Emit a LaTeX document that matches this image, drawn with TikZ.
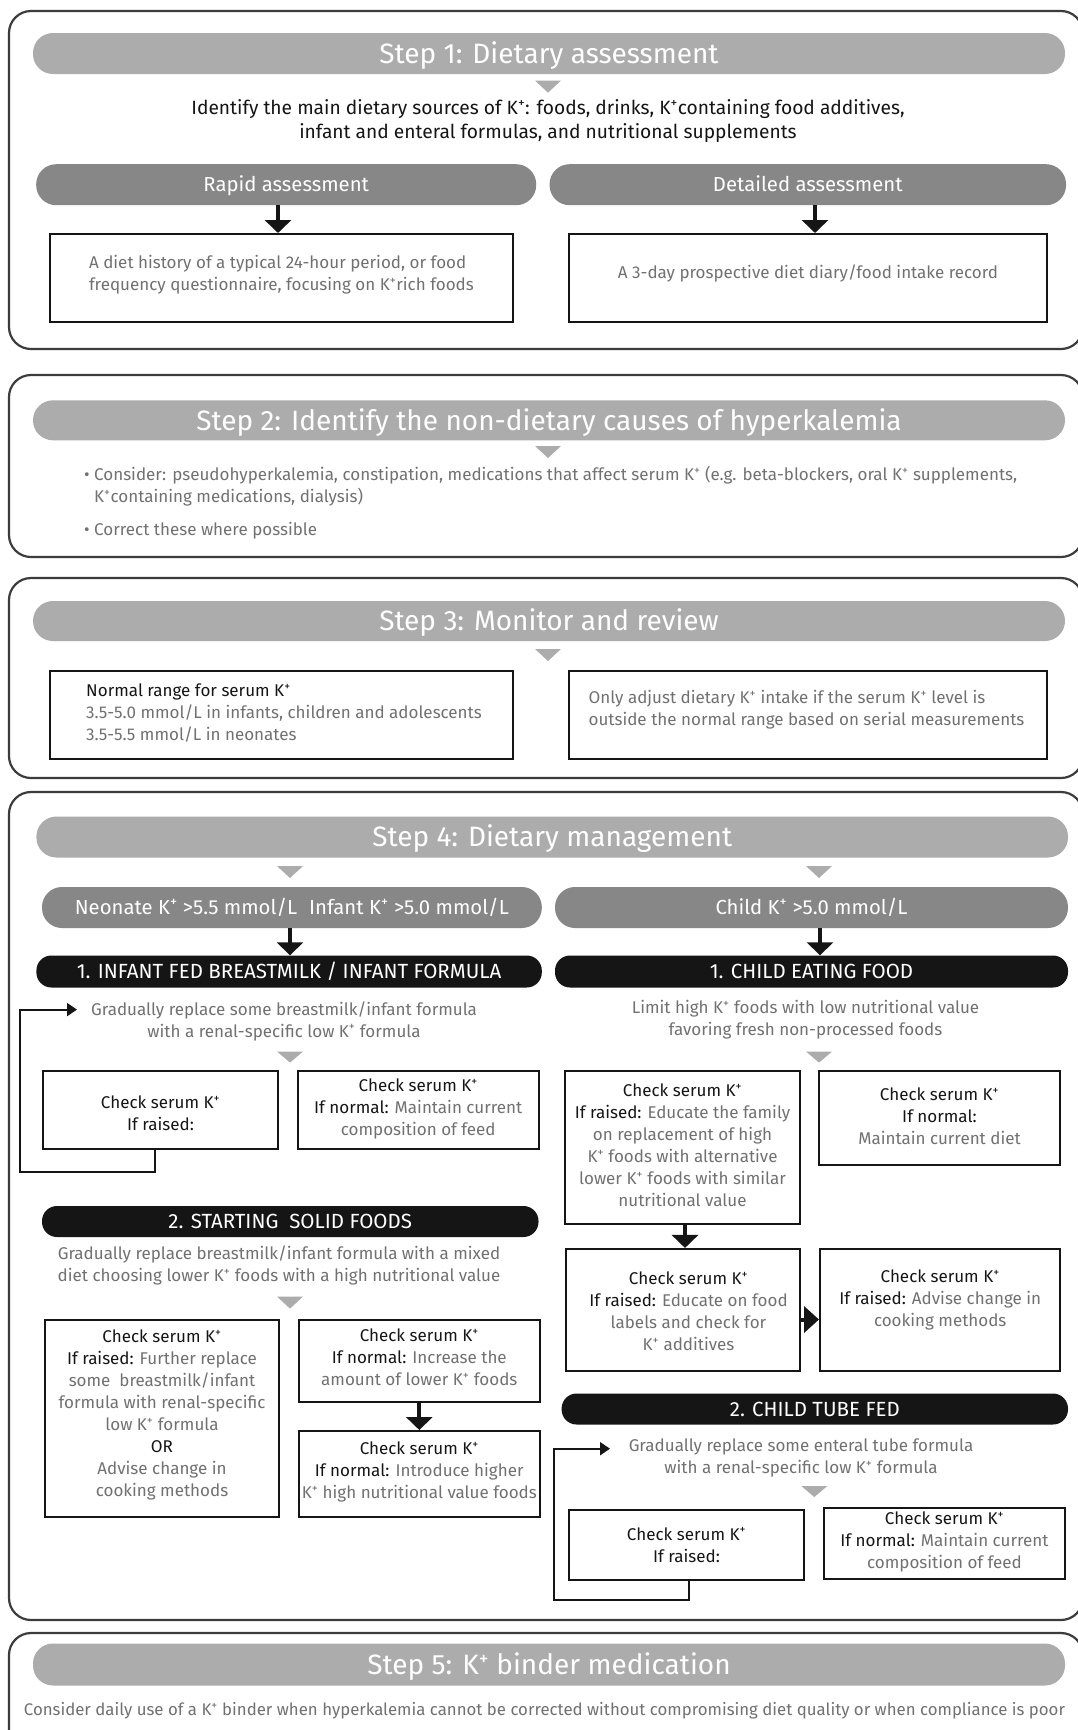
\documentclass[tikz,border=0pt]{standalone}
\usepackage{fontspec}
\setmainfont{Fira Sans}
\usetikzlibrary{arrows.meta}
\definecolor{hdr}{HTML}{ABACAB}
\definecolor{sub}{HTML}{878787}
\definecolor{blk}{HTML}{151515}
\definecolor{txt}{HTML}{717171}
\definecolor{frame}{HTML}{3C3C3C}
\newcommand{\Kp}{K\textsuperscript{+}}
\newcommand{\dk}[1]{\textcolor{blk}{#1}}
\begin{document}
\begin{tikzpicture}[x=1pt,y=-1pt,
  panel/.style={draw=frame, line width=2.2pt, rounded corners=22pt},
  hdrpill/.style={fill=hdr, rounded corners=20pt, inner sep=0pt, text=white, font=\fontsize{28}{32}\selectfont, text height=20.2pt, text depth=0.8pt},
  subpill/.style={fill=sub, rounded corners=20pt, inner sep=0pt, text=white, font=\fontsize{20.3}{24}\selectfont, text height=14.6pt, text depth=0.6pt},
  blkpill/.style={fill=blk, rounded corners=15pt, inner sep=0pt, text=white, font=\fontsize{20.5}{24}\selectfont, text height=14.8pt, text depth=0.6pt},
  box/.style={draw=blk, line width=2pt, inner sep=0pt},
  gtext/.style={inner sep=0pt, align=center, text=txt, font=\fontsize{17}{22}\selectfont},
  ktext/.style={inner sep=0pt, align=center, text=blk, font=\fontsize{19.2}{24}\selectfont},
  bigarrow/.style={draw=blk, line width=4pt, -{Triangle[width=26pt,length=13pt]}},
  sidearrow/.style={draw=blk, line width=4pt, -{Triangle[width=26pt,length=15pt]}},
  thinarrow/.style={draw=blk, line width=2pt, -{Triangle[width=13pt,length=10pt]}},
  tri/.style={fill=hdr}
]
\clip (0,0) rectangle (1078,1730);
\fill[white] (0,0) rectangle (1078,1730);

% ---------------- Step 1
\draw[panel] (9,11) rectangle (1083,349);
\node[hdrpill, minimum width=1032pt, minimum height=41pt] (h1) at (549,53.5) {Step 1: Dietary assessment};
\fill[tri] (535,80.5) -- (561,80.5) -- (548,92.7) -- cycle;
\node[ktext] (s1t) at (548,121.2) {Identify the main dietary sources of \Kp: foods, drinks, \Kp containing food additives,\\infant and enteral formulas, and nutritional supplements};
\node[subpill, minimum width=500pt, minimum height=41pt] (ra) at (286.2,184.7) {Rapid assessment};
\node[subpill, minimum width=516.5pt, minimum height=41pt] (da) at (807.8,184.7) {Detailed assessment};
\node[box, minimum width=463pt, minimum height=88pt] (b1) at (281.4,278) {};
\node[gtext, align=left] (b1t) at (281.4,274.5) {A diet history of a typical 24-hour period, or food\\frequency questionnaire, focusing on \Kp rich foods};
\node[box, minimum width=478pt, minimum height=88pt] (b2) at (808,278) {};
\node[gtext] (b2t) at (808,273.6) {A 3-day prospective diet diary/food intake record};
\coordinate (x1) at (278,0);
\coordinate (x2) at (815,0);
\draw[bigarrow] (ra.south -| x1) -- (b1.north -| x1);
\draw[bigarrow] (da.south -| x2) -- (b2.north -| x2);

% ---------------- Step 2
\draw[panel] (9,375) rectangle (1083,557);
\node[hdrpill, minimum width=1032pt, minimum height=40pt] (h2) at (549,420.3) {Step 2: Identify the non-dietary causes of hyperkalemia};
\fill[tri] (535,446) -- (561,446) -- (548,458) -- cycle;
\node[gtext, align=left, anchor=west] (s2a) at (84,486.5) {•\ Consider: pseudohyperkalemia, constipation, medications that affect serum \Kp{} (e.g. beta-blockers, oral \Kp{} supplements,\\\hphantom{•\ }\Kp containing medications, dialysis)};
\node[gtext, align=left, anchor=west] (s2b) at (84,530.6) {•\ Correct these where possible};

% ---------------- Step 3
\draw[panel] (9,578) rectangle (1083,778);
\node[hdrpill, minimum width=1032pt, minimum height=40pt] (h3) at (549,621) {Step 3: Monitor and review};
\fill[tri] (535,649) -- (561,649) -- (548,661) -- cycle;
\node[box, minimum width=463pt, minimum height=88pt] (n1) at (281.4,715) {};
\node[gtext, align=left] (n1t) at (284,713) {\dk{Normal range for serum \Kp}\\3.5-5.0 mmol/L in infants, children and adolescents\\3.5-5.5 mmol/L in neonates};
\node[box, minimum width=478pt, minimum height=88pt] (n2) at (808,715) {};
\node[gtext, align=left] (n2t) at (806.5,709.5) {Only adjust dietary \Kp{} intake if the serum \Kp{} level is\\outside the normal range based on serial measurements};

% ---------------- Step 4
\draw[panel] (9,792) rectangle (1083,1620);
\node[hdrpill, minimum width=1031.6pt, minimum height=41pt] (h4) at (552.2,837) {Step 4: Dietary management};
\fill[tri] (277,866) -- (303,866) -- (290,878) -- cycle;
\fill[tri] (806,866) -- (832,866) -- (819,878) -- cycle;
\node[subpill, minimum width=499.8pt, minimum height=41pt] (neo) at (291.9,907.5) {Neonate \Kp{} >5.5 mmol/L\hspace{12pt}Infant \Kp{} >5.0 mmol/L};
\node[subpill, minimum width=513pt, minimum height=41pt] (chi) at (811.5,907.5) {Child \Kp{} >5.0 mmol/L};
\node[blkpill, minimum width=505.4pt, minimum height=32pt] (inf) at (289.1,971.5) {1. INFANT FED BREASTMILK / INFANT FORMULA};
\node[blkpill, minimum width=513pt, minimum height=32pt] (eat) at (811.5,971.5) {1. CHILD EATING FOOD};
\coordinate (x3) at (290,0);
\coordinate (x4) at (820,0);
\draw[bigarrow] (neo.south -| x3) -- (inf.north -| x3);
\draw[bigarrow] (chi.south -| x4) -- (eat.north -| x4);

% infant column
\node[gtext] (it) at (284,1021.2) {Gradually replace some breastmilk/infant formula\\with a renal-specific low \Kp{} formula};
\coordinate (la) at (77,1009.6);
\fill[tri] (277,1051.5) -- (303,1051.5) -- (290,1062.6) -- cycle;
\node[box, minimum width=235pt, minimum height=77.2pt] (ba) at (160.5,1110) {};
\node[gtext, text=blk] (bat) at (160.5,1113.2) {Check serum \Kp\\If raised:};
\node[box, minimum width=240.5pt, minimum height=77.2pt] (bb) at (418.25,1110) {};
\node[gtext] (bbt) at (418.25,1109) {\dk{Check serum \Kp}\\\dk{If normal:} Maintain current\\composition of feed};
\draw[thinarrow] ([xshift=-6pt]ba.south) -- ++(0,22) -| (20,1009.6) -- (la);

\node[blkpill, minimum width=496.5pt, minimum height=31pt] (sol) at (290.25,1221.5) {2. STARTING\ \ SOLID FOODS};
\node[gtext] (st) at (279,1265.5) {Gradually replace breastmilk/infant formula with a mixed\\diet choosing lower \Kp{} foods with a high nutritional value};
\fill[tri] (277,1296.5) -- (303,1296.5) -- (290,1308.6) -- cycle;
\node[box, minimum width=234pt, minimum height=197.4pt] (sl) at (162,1418.3) {};
\node[gtext] (slt) at (162,1415.2) {\dk{Check serum \Kp}\\\dk{If raised:} Further replace\\some\ \ breastmilk/infant\\formula with renal-specific\\low \Kp{} formula\\\dk{OR}\\Advise change in\\cooking methods};
\node[box, minimum width=240.6pt, minimum height=82.8pt] (sr1) at (419.3,1361) {};
\node[gtext] (sr1t) at (419.3,1357.5) {\dk{Check serum \Kp}\\\dk{If normal:} Increase the\\amount of lower \Kp{} foods};
\node[box, minimum width=240.6pt, minimum height=86pt] (sr2) at (419.3,1474) {};
\node[gtext] (sr2t) at (419.3,1472) {\dk{Check serum \Kp}\\\dk{If normal:} Introduce higher\\\Kp{} high nutritional value foods};
\draw[bigarrow] (sr1.south) -- (sr2.north);

% child column
\node[gtext] (ct) at (805.5,1019.5) {Limit high \Kp{} foods with low nutritional value\\favoring fresh non-processed foods};
\fill[tri] (806,1051.5) -- (832,1051.5) -- (819,1062.6) -- cycle;
\node[box, minimum width=235pt, minimum height=152.2pt] (c1) at (682.5,1147.5) {};
\node[gtext] (c1t) at (682.5,1145.7) {\dk{Check serum \Kp}\\\dk{If raised:} Educate the family\\on replacement of high\\\Kp{} foods with alternative\\lower \Kp{} foods with similar\\nutritional value};
\node[box, minimum width=241.7pt, minimum height=93.6pt] (c2) at (939.5,1118.2) {};
\node[gtext] (c2t) at (939.5,1116.6) {\dk{Check serum \Kp}\\\dk{If normal:}\\Maintain current diet};
\node[box, minimum width=234pt, minimum height=122.5pt] (c3) at (683,1310.2) {};
\node[gtext] (c3t) at (688.5,1311.3) {\dk{Check serum \Kp}\\\dk{If raised:} Educate on food\\labels and check for\\\Kp{} additives};
\node[box, minimum width=240.4pt, minimum height=122.5pt] (c4) at (940.2,1310.2) {};
\node[gtext] (c4t) at (940.2,1300) {\dk{Check serum \Kp}\\\dk{If raised:} Advise change in\\cooking methods};
\coordinate (x5) at (685,0);
\draw[bigarrow] (c1.south -| x5) -- (c3.north -| x5);
\coordinate (y6) at (0,1319.5);
\draw[sidearrow] (c3.east |- y6) -- (c4.west |- y6);

\node[blkpill, minimum width=506.4pt, minimum height=31pt] (tube) at (814.8,1409) {2. CHILD TUBE FED};
\node[gtext] (tt) at (801,1458.1) {Gradually replace some enteral tube formula\\with a renal-specific low \Kp{} formula};
\coordinate (lb) at (610,1448.7);
\fill[tri] (801.3,1486) -- (827.3,1486) -- (814.3,1497) -- cycle;
\node[box, minimum width=235pt, minimum height=69.5pt] (t1) at (686.5,1545.2) {};
\node[gtext, text=blk] (t1t) at (686.5,1544.8) {Check serum \Kp\\If raised:};
\node[box, minimum width=241pt, minimum height=71pt] (t2) at (944.5,1543.5) {};
\node[gtext] (t2t) at (944.5,1541.8) {\dk{Check serum \Kp}\\\dk{If normal:} Maintain current\\composition of feed};
\draw[thinarrow] ([xshift=2pt]t1.south) -- ++(0,19) -| (554,1448.7) -- (lb);

% ---------------- Step 5
\draw[panel] (9,1633) rectangle (1083,1760);
\node[hdrpill, minimum width=1032pt, minimum height=42pt] (h5) at (549,1664.5) {Step 5: \Kp{} binder medication};
\node[gtext, font=\fontsize{16.8}{22}\selectfont] (s5t) at (544.5,1710.5) {Consider daily use of a \Kp{} binder when hyperkalemia cannot be corrected without compromising diet quality or when compliance is poor};
\end{tikzpicture}
\end{document}
